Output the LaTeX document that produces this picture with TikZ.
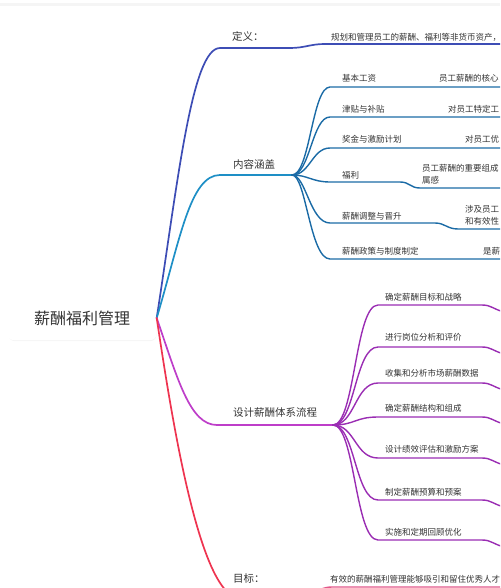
\documentclass[tikz,border=0pt]{standalone}
\usepackage{fontspec}
\setmainfont{Noto Sans CJK SC}
\definecolor{cDef}{HTML}{3D4DB5}
\definecolor{cCon}{HTML}{1E8FC6}
\definecolor{cConC}{HTML}{1B6BA6}
\definecolor{cDes}{HTML}{BE3EC9}
\definecolor{cDesC}{HTML}{9A2DB3}
\definecolor{cGoal}{HTML}{EE3450}
\definecolor{cGoalC}{HTML}{E2588A}
\definecolor{txt}{HTML}{333333}
\begin{document}
\begin{tikzpicture}[x=1pt,y=-1pt,
  rootnode/.style={font=\fontsize{16}{18}\selectfont, text=txt, fill=white, rounded corners=6pt, minimum width=149pt, minimum height=44pt, inner sep=0pt},
  lone/.style={font=\fontsize{10.5}{12}\selectfont, text=txt, anchor=west, inner sep=0pt},
  ltwo/.style={font=\fontsize{8.5}{12}\selectfont, text=txt, anchor=west, inner sep=0pt},
  lthree/.style={font=\fontsize{8.5}{12}\selectfont, text=txt, anchor=west, inner sep=0pt, align=left},
  bone/.style={line width=1.7pt, line cap=round},
  btwo/.style={line width=1.4pt, line cap=round},
]
\useasboundingbox (0,0) rectangle (500,588);
\begin{scope}
\clip (0,0) rectangle (500,588);
\fill[black!4] (0,3.5) rectangle (500,6);

% root (faint shadow below, then the card)
\fill[black!4, rounded corners=6pt] (8.5,297.5) rectangle (156.5,341);
\node[rootnode] (r) at (82,318) {薪酬福利管理};

% junctions
\coordinate (j1) at (292,175);
\coordinate (j2) at (333,425);
\coordinate (j4) at (300,598);

% level-1 connectors
\draw[bone, cDef] (r.east) .. controls (178,180) and (192,48) .. (220,48) -- (290,48) .. controls (305,48) and (310,44) .. (325,44) -- (505,44);
\draw[bone, cCon] (r.east) .. controls (180,240) and (190,175) .. (220,175) -- (j1);
\draw[bone, cDes] (r.east) .. controls (178,380) and (190,425) .. (217,425) -- (j2);
\draw[bone, cGoal] (r.east) .. controls (172,420) and (200,598) .. (240,598) -- (j4);
\draw[btwo, cGoalC] (j4) .. controls (314,598) and (316,587) .. (332,587) -- (505,587);

% level-1 labels
\node[lone] (n1) at (232,36.5) {定义：};
\node[lone] (n2) at (233,164) {内容涵盖};
\node[lone] (n3) at (233,413) {设计薪酬体系流程};
\node[lone] (n4) at (233,578) {目标：};

% definition and goal texts
\node[ltwo] (d1) at (331,37) {规划和管理员工的薪酬、福利等非货币资产，};
\node[ltwo] (g1) at (330,579) {有效的薪酬福利管理能够吸引和留住优秀人才};

% content branch
\foreach \y/\n in {87/a1,117/a2,148/a3,182/a4,223/a5,259/a6} {\coordinate (\n) at (330,\y);}
\draw[btwo, cConC] (j1) .. controls (310,175) and (312,87) .. (a1) -- (505,87);
\draw[btwo, cConC] (j1) .. controls (310,175) and (312,117) .. (a2) -- (505,117);
\draw[btwo, cConC] (j1) .. controls (310,175) and (312,148) .. (a3) -- (505,148);
\draw[btwo, cConC] (j1) .. controls (308,175) and (312,182) .. (a4) -- (400,182) .. controls (410,182) and (410,188) .. (420,188) -- (505,188);
\draw[btwo, cConC] (j1) .. controls (306,175) and (310,223) .. (a5) -- (435,223) .. controls (445,223) and (447,229) .. (458,229) -- (505,229);
\draw[btwo, cConC] (j1) .. controls (306,175) and (310,259) .. (a6) -- (505,259);

\node[ltwo] (c1) at (342,78) {基本工资};
\node[ltwo] (c2) at (342,109) {津贴与补贴};
\node[ltwo] (c3) at (342,139) {奖金与激励计划};
\node[ltwo] (c4) at (342,175) {福利};
\node[ltwo] (c5) at (342,216) {薪酬调整与晋升};
\node[ltwo] (c6) at (342,251) {薪酬政策与制度制定};

\node[lthree] (e1) at (439,78) {员工薪酬的核心};
\node[lthree] (e2) at (448,109) {对员工特定工};
\node[lthree] (e3) at (465,139) {对员工优};
\node[lthree] (e4) at (422,174) {员工薪酬的重要组成\\属感};
\node[lthree] (e5) at (465,215) {涉及员工\\和有效性};
\node[lthree] (e6) at (483,251) {是薪};

% design branch
\foreach \y/\n in {305/p1,347/p2,383/p3,417/p4,458/p5,500/p6,540/p7} {
  \coordinate (\n) at (378,\y);
  \draw[btwo, cDesC] (j2) .. controls (355,425) and (355,\y) .. (\n) -- (482,\y) .. controls (492,\y) and (494,\y+5) .. (505,\y+7);
}
\node[ltwo] (s1) at (385,297) {确定薪酬目标和战略};
\node[ltwo] (s2) at (385,337) {进行岗位分析和评价};
\node[ltwo] (s3) at (385,373) {收集和分析市场薪酬数据};
\node[ltwo] (s4) at (385,408) {确定薪酬结构和组成};
\node[ltwo] (s5) at (385,449) {设计绩效评估和激励方案};
\node[ltwo] (s6) at (385,492) {制定薪酬预算和预案};
\node[ltwo] (s7) at (385,532) {实施和定期回顾优化};
\end{scope}
\end{tikzpicture}
\end{document}
